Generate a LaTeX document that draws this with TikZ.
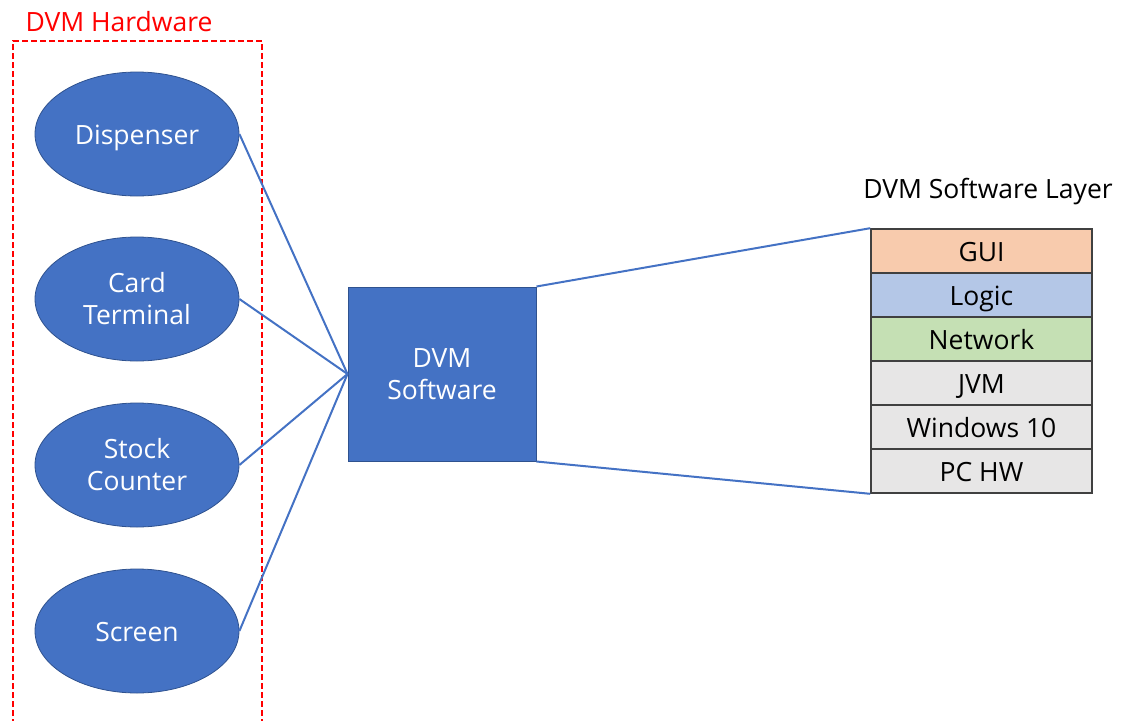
\documentclass[tikz,border=0pt]{standalone}
\usepackage{fontspec}
\setmainfont{Open Sans}
\usetikzlibrary{shapes.geometric}
\definecolor{obl}{HTML}{4472C4}
\definecolor{obd}{HTML}{2F528F}
\definecolor{cgui}{HTML}{F8CBAD}
\definecolor{clog}{HTML}{B4C7E7}
\definecolor{cnet}{HTML}{C5E0B4}
\definecolor{cgry}{HTML}{E7E6E6}
\definecolor{hwred}{HTML}{FF0000}
\tikzset{
  hw/.style={ellipse, fill=obl, draw=obd, line width=0.8pt, minimum width=204pt, minimum height=124pt, inner sep=0pt, text=white, align=center, font=\fontsize{26.5}{32}\selectfont},
  oneline/.style={text height=20pt, text depth=0pt},
  swbox/.style={rectangle, fill=obl, draw=obd, line width=1pt, minimum width=188pt, minimum height=174pt, inner sep=0pt, text=white, align=center, font=\fontsize{26.5}{32}\selectfont},
  layer/.style={rectangle, draw=black!75, line width=1.6pt, minimum width=221pt, minimum height=44pt, inner sep=0pt, oneline, font=\fontsize{26.5}{30}\selectfont},
  conn/.style={draw=obl, line width=2pt},
  lbl/.style={inner sep=0pt, font=\fontsize{26.5}{30}\selectfont}
}
\begin{document}
\begin{tikzpicture}[x=1pt,y=-1pt]
\useasboundingbox (0,0) rectangle (1129,720);
% hardware frame
\draw[hwred, line width=2.2pt, dash pattern=on 6pt off 3pt] (13,725) -- (13,41) -- (262,41) -- (262,725);
\node[lbl, oneline, text=hwred] (hwtitle) at (119,21) {DVM Hardware};
% hardware
\node[hw, oneline] (disp) at (137,134) {Dispenser};
\node[hw] (card) at (137,299) {Card\\Terminal};
\node[hw] (stock) at (137,465) {Stock\\Counter};
\node[hw, oneline] (screen) at (137,631) {Screen};
% software
\node[swbox] (sw) at (442,374) {DVM\\Software};
% layers
\node[layer, fill=cgui] (gui) at (981.5,251) {GUI};
\node[layer, fill=clog] (logic) at (981.5,295) {Logic};
\node[layer, fill=cnet] (net) at (981.5,339) {Network};
\node[layer, fill=cgry] (jvm) at (981.5,383) {JVM};
\node[layer, fill=cgry] (win) at (981.5,427) {Windows 10};
\node[layer, fill=cgry] (pchw) at (981.5,471) {PC HW};
\node[lbl, oneline] (swtitle) at (988,188) {DVM Software Layer};
% connectors
\draw[conn] (disp.east) -- (sw.west);
\draw[conn] (card.east) -- (sw.west);
\draw[conn] (stock.east) -- (sw.west);
\draw[conn] (screen.east) -- (sw.west);
\draw[conn] (sw.north east) -- (gui.north west);
\draw[conn] (sw.south east) -- (pchw.south west);
\end{tikzpicture}
\end{document}
